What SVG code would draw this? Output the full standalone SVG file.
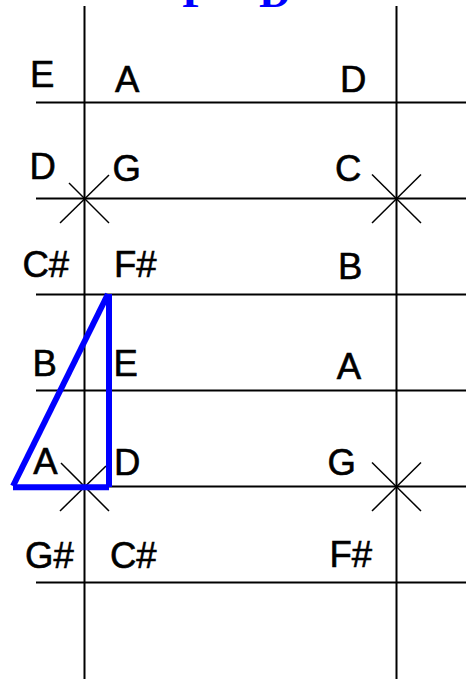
<svg xmlns="http://www.w3.org/2000/svg" width="466" height="679" viewBox="0 0 466 679">
<style>
.grid line{stroke:#000;stroke-width:2}
.x line{stroke:#000;stroke-width:1.5}
.lbl{font-family:"Liberation Sans",Arial,sans-serif;font-size:36.5px;fill:#000;stroke:#000;stroke-width:0.6}
.title{font-family:"Liberation Serif","Times New Roman",serif;font-weight:bold;font-size:44px;fill:#0000ff}
.tri{stroke:#0000ff;stroke-width:6;fill:none}
</style>
<rect width="466" height="679" fill="#fff"/>
<text class="title" y="6.5"><tspan x="182">P</tspan><tspan x="259">D</tspan></text>
<g id="connectors">
<g class="grid">
<line x1="84.5" y1="6" x2="84.5" y2="679"/>
<line x1="396.5" y1="6" x2="396.5" y2="679"/>
<line x1="36" y1="102.5" x2="466" y2="102.5"/>
<line x1="36" y1="198.5" x2="466" y2="198.5"/>
<line x1="36" y1="294.5" x2="466" y2="294.5"/>
<line x1="36" y1="390.5" x2="466" y2="390.5"/>
<line x1="36" y1="486.5" x2="466" y2="486.5"/>
<line x1="36" y1="582.5" x2="466" y2="582.5"/>
</g>
<g class="x">
<line x1="69" y1="183" x2="109" y2="223"/>
<line x1="109" y1="175" x2="60" y2="223"/>
<line x1="372" y1="174.5" x2="421" y2="223"/>
<line x1="421" y1="174.5" x2="372" y2="223"/>
<line x1="61" y1="463" x2="109" y2="511"/>
<line x1="106" y1="466" x2="60" y2="511"/>
<line x1="372" y1="462.5" x2="421" y2="511"/>
<line x1="421" y1="462.5" x2="372" y2="511"/>
</g>
</g>
<g id="triangle" class="tri">
<line x1="13" y1="486" x2="108" y2="294"/>
<line x1="109" y1="294" x2="109" y2="487"/>
<line x1="13" y1="487.3" x2="109" y2="487.3"/>
</g>
<g id="labels" class="lbl">
<text x="30" y="87">E</text>
<text x="115" y="91.5">A</text>
<text x="340" y="91.5">D</text>
<text x="29.5" y="179.3">D</text>
<text x="112.5" y="180.5">G</text>
<text x="335" y="180.5">C</text>
<text x="22.5" y="277">C#</text>
<text x="114" y="277">F#</text>
<text x="338" y="279">B</text>
<text x="32.5" y="376.2">B</text>
<text x="113.5" y="376.2">E</text>
<text x="336.7" y="379">A</text>
<text x="33.3" y="473.5">A</text>
<text x="114" y="475">D</text>
<text x="327.5" y="474.5">G</text>
<text x="25" y="568">G#</text>
<text x="110" y="568">C#</text>
<text x="329.5" y="567">F#</text>
</g>
</svg>
